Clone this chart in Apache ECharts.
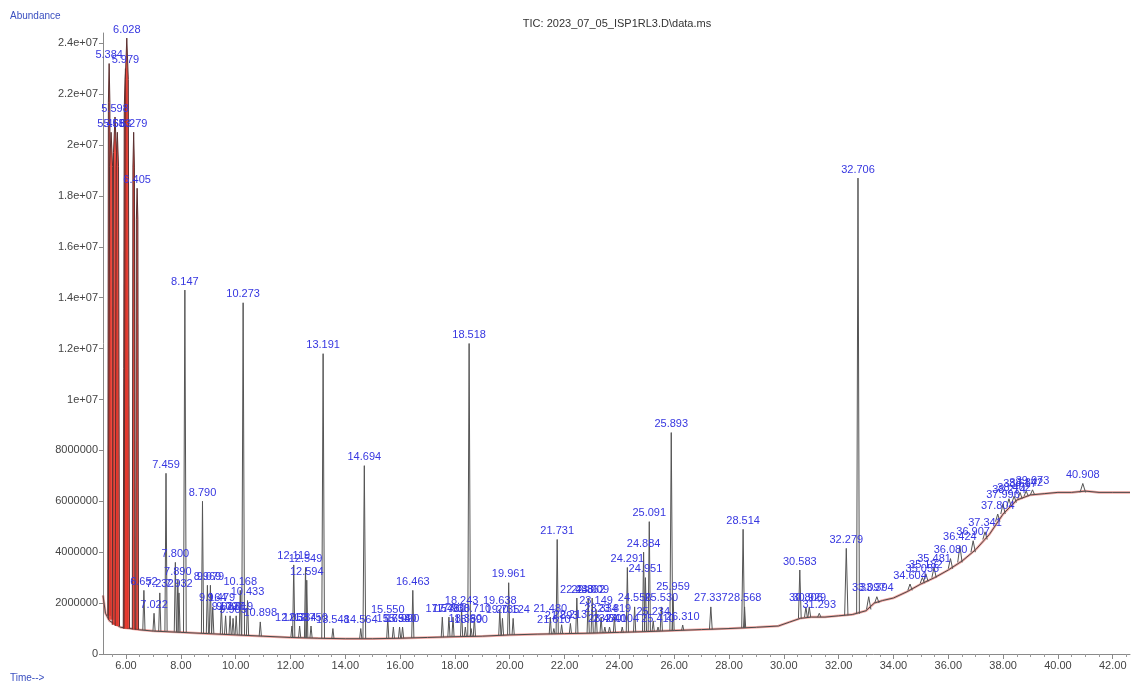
<!DOCTYPE html>
<html><head><meta charset="utf-8">
<script src="https://cdn.jsdelivr.net/npm/echarts@6/dist/echarts.min.js"></script>
<style>html,body{margin:0;padding:0;background:#fff}#c{width:1135px;height:685px}</style>
</head><body><div id="c"></div>
<script>
const titleText = 'TIC: 2023_07_05_ISP1RL3.D\\data.ms';
const yAxisName = 'Abundance';
const xAxisName = 'Time-->';
const xTickLabels = [6, 8, 10, 12, 14, 16, 18, 20, 22, 24, 26, 28, 30, 32, 34, 36, 38, 40, 42];
const yTickValues = [0, 2e6, 4e6, 6e6, 8e6, 1e7, 1.2e7, 1.4e7, 1.6e7, 1.8e7, 2e7, 2.2e7, 2.4e7];

// trace between peaks (baseline)
const baseTimes  = [5.16, 5.25, 5.40, 5.80, 6.50, 7.00, 8.00, 9.00, 10.00, 11.00, 12.00, 13.00, 14.00, 15.00, 16.00, 17.00, 18.00, 19.00, 20.00, 21.00, 22.00, 23.00, 24.00, 25.00, 26.00, 27.00, 28.00, 29.00, 29.80, 30.20, 30.60, 31.00, 31.50, 32.00, 32.50, 33.00, 33.30, 33.60, 34.00, 34.50, 35.00, 35.50, 36.00, 36.50, 37.00, 37.50, 38.00, 38.50, 39.00, 39.50, 40.00, 40.50, 41.00, 41.50, 42.00, 42.63];
const baseValues = [2.3e6, 1.6e6, 1.3e6, 1.05e6, 0.95e6, 0.9e6, 0.85e6, 0.8e6, 0.75e6, 0.7e6, 0.65e6, 0.62e6, 0.6e6, 0.6e6, 0.62e6, 0.65e6, 0.68e6, 0.7e6, 0.75e6, 0.78e6, 0.8e6, 0.82e6, 0.85e6, 0.88e6, 0.92e6, 0.96e6, 1.0e6, 1.05e6, 1.1e6, 1.25e6, 1.4e6, 1.45e6, 1.45e6, 1.5e6, 1.55e6, 1.7e6, 2.0e6, 2.1e6, 2.2e6, 2.45e6, 2.75e6, 3.0e6, 3.3e6, 3.65e6, 4.1e6, 4.7e6, 5.5e6, 6.05e6, 6.25e6, 6.3e6, 6.35e6, 6.35e6, 6.4e6, 6.35e6, 6.35e6, 6.35e6];

// labelled peaks: retention time, apex abundance, local baseline, half width (min), red integration fill
const peakRT = [5.384, 5.455, 5.598, 5.683, 5.979, 6.028, 6.279, 6.405,
  6.652, 7.022, 7.232, 7.459, 7.800, 7.890, 7.932, 8.147, 8.790, 8.969, 9.079, 9.164, 9.479, 9.633, 9.797, 9.905, 10.019, 10.168, 10.273, 10.433, 10.898,
  12.053, 12.119, 12.334, 12.549, 12.594, 12.750, 13.191, 13.548, 14.564, 14.694, 15.550, 15.754, 15.980, 16.090, 16.463,
  17.540, 17.781, 17.930, 18.243, 18.380, 18.518, 18.590, 18.710,
  19.638, 19.735, 19.961, 20.124,
  21.480, 21.610, 21.731, 21.893, 22.213, 22.448, 22.862, 23.009, 23.149, 23.334, 23.470, 23.640, 23.819,
  24.104, 24.291, 24.556, 24.884, 24.951, 25.091, 25.234, 25.410, 25.530, 25.893, 25.959, 26.310,
  27.337, 28.514, 28.568, 30.583, 30.806, 30.929, 31.293, 32.279, 32.706, 33.097, 33.394,
  34.604, 35.055, 35.182, 35.481, 36.080, 36.424, 36.907, 37.341, 37.804, 37.996, 38.214, 38.402, 38.617, 38.842, 39.073, 40.908];
const peakHeight = [23.2e6, 20.5e6, 21.1e6, 20.5e6, 23.0e6, 24.2e6, 20.5e6, 18.3e6,
  2.5e6, 1.6e6, 2.4e6, 7.1e6, 3.6e6, 2.9e6, 2.4e6, 14.3e6, 6.0e6, 2.7e6, 2.7e6, 1.85e6, 1.85e6, 1.5e6, 1.5e6, 1.4e6, 1.5e6, 2.5e6, 13.8e6, 2.1e6, 1.26e6,
  1.1e6, 3.5e6, 1.1e6, 3.4e6, 2.9e6, 1.1e6, 11.8e6, 1.0e6, 1.0e6, 7.4e6, 1.4e6, 1.06e6, 1.06e6, 1.06e6, 2.5e6,
  1.45e6, 1.45e6, 1.45e6, 1.75e6, 1.06e6, 12.2e6, 1.0e6, 1.45e6,
  1.75e6, 1.4e6, 2.8e6, 1.4e6,
  1.45e6, 1.0e6, 4.5e6, 1.15e6, 1.2e6, 2.2e6, 2.2e6, 2.2e6, 1.75e6, 1.45e6, 1.06e6, 1.06e6, 1.45e6,
  1.06e6, 3.4e6, 1.85e6, 4.0e6, 3.0e6, 5.2e6, 1.3e6, 1.06e6, 1.85e6, 8.7e6, 2.3e6, 1.14e6,
  1.85e6, 4.9e6, 1.85e6, 3.3e6, 1.85e6, 1.85e6, 1.6e6, 4.15e6, 18.7e6, 2.25e6, 2.25e6,
  2.75e6, 3.0e6, 3.15e6, 3.4e6, 3.75e6, 4.25e6, 4.45e6, 4.8e6, 5.5e6, 5.9e6, 6.1e6, 6.2e6, 6.35e6, 6.4e6, 6.45e6, 6.7e6];
const peakBase = [1.5e6, 1.35e6, 1.15e6, 1.1e6, 1.0e6, 1.0e6, 0.97e6, 0.96e6,
  0.94e6, 0.9e6, 0.9e6, 0.9e6, 0.87e6, 0.86e6, 0.86e6, 0.85e6, 0.82e6, 0.8e6, 0.8e6, 0.8e6, 0.78e6, 0.77e6, 0.76e6, 0.76e6, 0.75e6, 0.74e6, 0.74e6, 0.73e6, 0.7e6,
  0.65e6, 0.65e6, 0.64e6, 0.63e6, 0.63e6, 0.63e6, 0.62e6, 0.61e6, 0.6e6, 0.6e6, 0.6e6, 0.61e6, 0.62e6, 0.62e6, 0.63e6,
  0.66e6, 0.67e6, 0.67e6, 0.68e6, 0.68e6, 0.69e6, 0.69e6, 0.69e6,
  0.73e6, 0.73e6, 0.75e6, 0.75e6,
  0.78e6, 0.78e6, 0.79e6, 0.8e6, 0.8e6, 0.81e6, 0.82e6, 0.82e6, 0.82e6, 0.83e6, 0.83e6, 0.84e6, 0.84e6,
  0.85e6, 0.86e6, 0.86e6, 0.87e6, 0.88e6, 0.88e6, 0.89e6, 0.89e6, 0.9e6, 0.91e6, 0.92e6, 0.93e6,
  0.97e6, 1.02e6, 1.02e6, 1.4e6, 1.45e6, 1.45e6, 1.45e6, 1.52e6, 1.58e6, 1.75e6, 2.0e6,
  2.5e6, 2.78e6, 2.85e6, 3.0e6, 3.35e6, 3.6e6, 4.0e6, 4.5e6, 5.2e6, 5.5e6, 5.8e6, 5.95e6, 6.1e6, 6.2e6, 6.25e6, 6.35e6];
const peakWidth = [0.05, 0.10, 0.10, 0.08, 0.08, 0.10, 0.05, 0.05,
  0.04, 0.04, 0.04, 0.04, 0.04, 0.04, 0.04, 0.05, 0.04, 0.04, 0.04, 0.04, 0.04, 0.04, 0.04, 0.04, 0.04, 0.04, 0.05, 0.04, 0.04,
  0.04, 0.04, 0.04, 0.04, 0.04, 0.04, 0.05, 0.04, 0.04, 0.05, 0.04, 0.04, 0.04, 0.04, 0.04,
  0.04, 0.04, 0.04, 0.04, 0.04, 0.05, 0.04, 0.04,
  0.04, 0.04, 0.04, 0.04,
  0.04, 0.04, 0.04, 0.04, 0.04, 0.04, 0.04, 0.04, 0.04, 0.04, 0.04, 0.04, 0.04,
  0.04, 0.04, 0.04, 0.04, 0.04, 0.04, 0.04, 0.04, 0.04, 0.05, 0.04, 0.04,
  0.05, 0.05, 0.04, 0.05, 0.05, 0.05, 0.06, 0.06, 0.05, 0.08, 0.08,
  0.08, 0.08, 0.08, 0.08, 0.08, 0.08, 0.08, 0.08, 0.08, 0.08, 0.08, 0.08, 0.08, 0.08, 0.08, 0.10];
const peakFilled = [1, 1, 1, 1, 1, 1, 1, 1];

const peakData = peakRT.map((t, i) => [t, peakHeight[i], peakBase[i], peakWidth[i], peakFilled[i] ? 1 : 0]);
const baseData = baseTimes.map((t, i) => [t, baseValues[i]]);

const xMinorTicks = [];
xTickLabels.forEach(m => { [m - 1.5, m - 1, m - 0.5].forEach(v => { if (v > 5.16) xMinorTicks.push(v); }); });
xMinorTicks.push(42.5);

function fmtY(v) {
  if (v >= 1e7) return (Math.round(v / 1e6) / 10) + 'e+07';
  return String(Math.round(v));
}

const FONT = 'Liberation Sans, Arial, sans-serif';
const chart = echarts.init(document.getElementById('c'), null, { renderer: 'canvas' });
chart.setOption({
  animation: false,
  backgroundColor: '#ffffff',
  grid: { left: 103, right: 5, top: 33, bottom: 31, containLabel: false },
  graphic: [
    { type: 'text', left: 10, top: 11, style: { text: yAxisName, fill: '#3a4fc0', font: '10px ' + FONT } },
    { type: 'text', left: 10, top: 673, style: { text: xAxisName, fill: '#3a4fc0', font: '10px ' + FONT } },
    { type: 'text', x: 617, y: 24, style: { text: titleText, fill: '#333', font: '11px ' + FONT, align: 'center', verticalAlign: 'middle' } }
  ],
  xAxis: [{
    type: 'value', min: 5.16, max: 42.63,
    axisLine: { lineStyle: { color: '#8a8a8a', width: 1 } },
    axisTick: { show: true, length: 5, lineStyle: { color: '#8a8a8a' }, customValues: xTickLabels },
    axisLabel: { customValues: xTickLabels, formatter: v => v.toFixed(2), color: '#444', fontSize: 11, fontFamily: FONT, margin: 6 },
    splitLine: { show: false }
  }, {
    type: 'value', min: 5.16, max: 42.63, position: 'bottom', offset: 0,
    axisLine: { show: false },
    axisTick: { show: true, length: 3, lineStyle: { color: '#9a9a9a' }, customValues: xMinorTicks },
    axisLabel: { show: false },
    splitLine: { show: false }
  }],
  yAxis: {
    type: 'value', min: 0, max: 24.4e6,
    axisLine: { show: true, lineStyle: { color: '#8a8a8a', width: 1 } },
    axisTick: { show: true, length: 4, lineStyle: { color: '#8a8a8a' }, customValues: yTickValues },
    axisLabel: { customValues: yTickValues, formatter: fmtY, color: '#444', fontSize: 11, fontFamily: FONT, margin: 5 },
    splitLine: { show: false }
  },
  series: [
    {
      type: 'line', data: baseData, showSymbol: false, silent: true, z: 1,
      lineStyle: { color: 'rgba(235,95,85,0.55)', width: 2.5 }
    },
    {
      type: 'line', data: baseData, showSymbol: false, silent: true, z: 2,
      lineStyle: { color: '#4a4a4a', width: 1 }
    },
    {
      type: 'custom', data: peakData, encode: { x: 0, y: 1 }, z: 3, clip: true,
      renderItem: function (params, api) {
        const t = api.value(0), h = api.value(1), b = api.value(2), w = api.value(3), f = api.value(4);
        let pts;
        if (f) {
          pts = [api.coord([t - w, b]), api.coord([t - w * 0.55, b + (h - b) * 0.93]), api.coord([t, h]), api.coord([t + w * 0.55, b + (h - b) * 0.93]), api.coord([t + w, b])];
        } else {
          pts = [api.coord([t - w, b]), api.coord([t, h]), api.coord([t + w, b])];
        }
        const children = [];
        if (f) children.push({ type: 'polygon', shape: { points: pts }, style: { fill: '#e8372c', opacity: 0.9 } });
        children.push({ type: 'polyline', shape: { points: pts }, style: { stroke: f ? '#5a3030' : '#555', lineWidth: 1, fill: null } });
        return { type: 'group', children: children };
      }
    },
    {
      type: 'custom', data: peakData, encode: { x: 0, y: 1 }, z: 10, clip: false,
      renderItem: function (params, api) {
        const t = api.value(0), h = api.value(1);
        const p = api.coord([t, h]);
        return { type: 'text', x: p[0], y: p[1] - 3, style: { text: t.toFixed(3), fill: '#3636e0', font: '11px ' + FONT, align: 'center', verticalAlign: 'bottom' } };
      }
    }
  ]
});
</script>
</body></html>
